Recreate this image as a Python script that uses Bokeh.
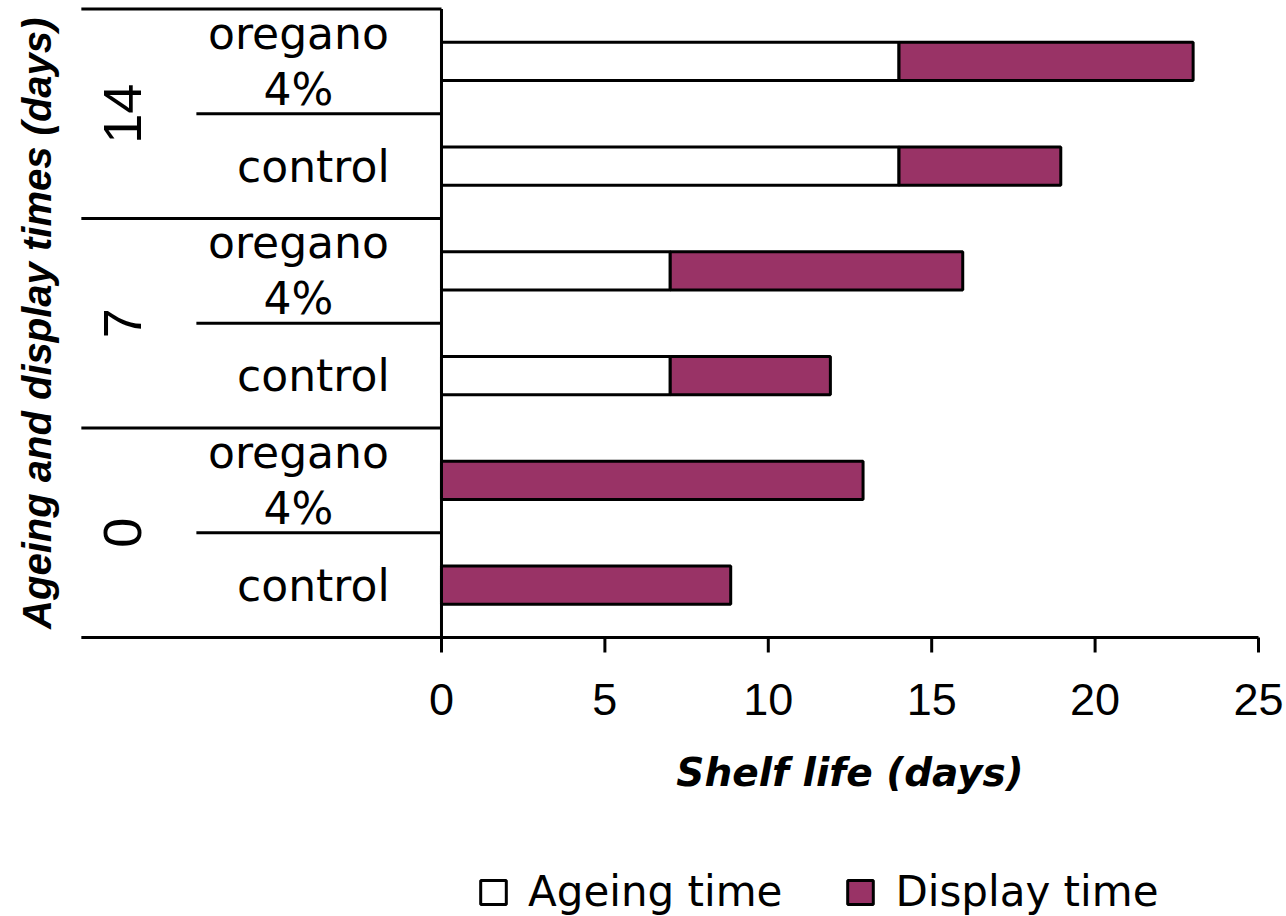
import numpy as np
from bokeh.plotting import figure
from bokeh.models import Range1d, Legend, LegendItem, ColumnDataSource
from bokeh.core.properties import value
from bokeh.embed import file_html
from bokeh.resources import INLINE

# ---------------- data ----------------
cat_groups = ["0", "0", "7", "7", "14", "14"]
cat_treat = ["control", "oregano 4%", "control", "oregano 4%", "control", "oregano 4%"]
ageing = [0, 0, 7, 7, 14, 14]
display = [8.85, 12.9, 4.9, 8.95, 4.95, 9.0]
group_names = ["0", "7", "14"]
xticks = [0, 5, 10, 15, 20, 25]
series_names = ["Ageing time", "Display time"]
x_title = "Shelf life (days)"
y_title = "Ageing and display times (days)"

PURPLE = "#993366"

# ---------------- geometry (frame = whole canvas) ----------------
W, H = 1286, 916
x_start, x_end = -13.494, 25.857
y_start, y_end = -2.6635, 6.0812
px_per_y = H / (y_end - y_start)
X_MAX = xticks[-1]

p = figure(width=W, height=H, output_backend="svg", toolbar_location=None,
           title=None, x_axis_location=None, y_axis_location=None,
           x_range=Range1d(x_start, x_end), y_range=Range1d(y_start, y_end),
           min_border_left=0, min_border_top=0,
           min_border_right=0, min_border_bottom=0)
p.outline_line_color = None
p.xgrid.visible = False
p.ygrid.visible = False
p.background_fill_color = "white"
p.border_fill_color = "white"

ypos = np.arange(len(cat_treat)) + 0.5
total = [a + d for a, d in zip(ageing, display)]
src = ColumnDataSource(dict(y=ypos, zero=[0] * len(ageing), ageing=ageing, total=total))

# separators in the label area
sep_y = np.arange(1, len(cat_treat) + 1)
sep_x0 = [-11.02 if (v % 2 == 0) else -7.5 for v in sep_y]
p.segment(x0=sep_x0, y0=sep_y, x1=[0] * len(sep_y), y1=sep_y,
          line_color="black", line_width=3)
# x axis line (extends under the label area)
p.segment(x0=[-11.02], y0=[0], x1=[X_MAX], y1=[0], line_color="black", line_width=3)
# x ticks (pointing down)
tick_len = 15 / px_per_y
p.segment(x0=xticks, y0=[0] * len(xticks), x1=xticks, y1=[-tick_len] * len(xticks),
          line_color="black", line_width=3)
# tick labels
p.text(x=xticks, y=[-62 / px_per_y] * len(xticks), text=[str(t) for t in xticks],
       text_font=value("Liberation Sans"), text_font_size=value("45px"),
       text_align="center", text_baseline="middle", text_color="black")
# x title
p.text(x=[X_MAX / 2], y=[-135 / px_per_y], text=[x_title],
       text_font=value("DejaVu Sans"), text_font_size=value("39px"),
       text_font_style="bold italic", text_align="center",
       text_baseline="middle", text_color="black")

r_age = p.hbar(y="y", left="zero", right="ageing", height=0.363, source=src,
               fill_color="white", line_color="black", line_width=3)
r_disp = p.hbar(y="y", left="ageing", right="total", height=0.363, source=src,
                fill_color=PURPLE, line_color="black", line_width=3)

# vertical value axis line
p.segment(x0=[0], y0=[0], x1=[0], y1=[len(cat_treat)], line_color="black", line_width=3)

# category labels
lx, ly, lt = [], [], []
for i, t in enumerate(cat_treat):
    parts = t.split(" ")
    if len(parts) == 1:
        lx.append(-3.92); ly.append(ypos[i]); lt.append(parts[0])
    else:
        lx += [-4.376, -4.376]
        ly += [ypos[i] + 0.27, ypos[i] - 0.265]
        lt += parts
p.text(x=lx, y=ly, text=lt, text_font=value("DejaVu Sans"),
       text_font_size=value("44px"), text_align="center",
       text_baseline="middle", text_color="black")

# group labels (rotated)
gy = [2 * k + 1 for k in range(len(group_names))]
p.text(x=[-9.76] * len(group_names), y=gy, text=group_names,
       text_font=value("Liberation Sans"), text_font_size=value("54px"),
       angle=np.pi / 2, text_align="center", text_baseline="middle",
       text_color="black")

# y title
p.text(x=[-12.37], y=[3.0], text=[y_title], text_font=value("Liberation Sans"),
       text_font_size=value("40px"), text_font_style="bold italic",
       angle=np.pi / 2, text_align="center", text_baseline="middle",
       text_color="black")

# legend
lg = Legend(items=[LegendItem(label=series_names[0], renderers=[r_age]),
                   LegendItem(label=series_names[1], renderers=[r_disp])],
            location=(477, 0), orientation="horizontal",
            border_line_color=None, background_fill_alpha=0,
            padding=0, margin=0, spacing=62, glyph_width=32, glyph_height=30,
            label_standoff=19, label_text_font="DejaVu Sans",
            label_text_font_size="42px", label_text_color="black")
p.add_layout(lg)

open("out.html", "w").write(file_html(p, INLINE))
